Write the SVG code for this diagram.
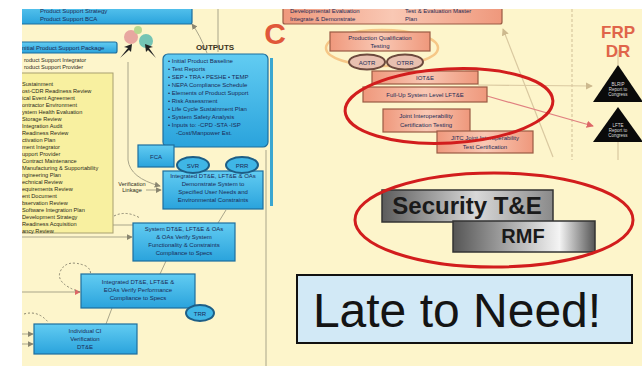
<svg xmlns="http://www.w3.org/2000/svg" width="642" height="366" viewBox="0 0 642 366">
<style>
.t{font-family:"Liberation Sans",Arial,sans-serif;fill:#1b2a55;font-size:6px}
.tc{text-anchor:middle}
.blue{fill:url(#blueG);stroke:#1d6e9e;stroke-width:1.2}
.salmon{fill:url(#salG);stroke:#9a5a44;stroke-width:1.2}
.oval{fill:#3fb6e6;stroke:#1d5e86;stroke-width:2}
.ovalS{fill:#e8c0b0;stroke:#6d4a3e;stroke-width:2}
.ln{fill:none;stroke:#a9a58a;stroke-width:1}
.lnd{fill:none;stroke:#8a8670;stroke-width:1;stroke-dasharray:2 2}
.red{fill:none;stroke:#d21d1d;stroke-width:3}
.tan{fill:none;stroke:#d9c8a0;stroke-width:1.2}
.yl{font-family:"Liberation Sans",Arial,sans-serif;fill:#2a2a1a;font-size:5.6px}
</style>
<defs>
<linearGradient id="blueG" x1="0" y1="0" x2="0" y2="1"><stop offset="0" stop-color="#62ccf2"/><stop offset="1" stop-color="#2aa3dc"/></linearGradient>
<linearGradient id="salG" x1="0" y1="0" x2="1" y2="0"><stop offset="0" stop-color="#ef987c"/><stop offset="0.5" stop-color="#f9c8b4"/><stop offset="1" stop-color="#ef987c"/></linearGradient>
<linearGradient id="grayA" x1="0" y1="0" x2="1" y2="0"><stop offset="0" stop-color="#5c5c5c"/><stop offset="0.55" stop-color="#d8d8d8"/><stop offset="1" stop-color="#8a8a8a"/></linearGradient>
<linearGradient id="grayB" x1="0" y1="0" x2="1" y2="0"><stop offset="0" stop-color="#555"/><stop offset="0.75" stop-color="#f4f4f4"/><stop offset="1" stop-color="#555"/></linearGradient>
<marker id="ah" viewBox="0 0 8 8" refX="7" refY="4" markerWidth="6" markerHeight="6" orient="auto"><path d="M0,0 L8,4 L0,8 z" fill="#8a8670"/></marker>
<marker id="ahr" viewBox="0 0 8 8" refX="7" refY="4" markerWidth="6" markerHeight="6" orient="auto"><path d="M0,0 L8,4 L0,8 z" fill="#d66"/></marker>
<marker id="aht" viewBox="0 0 8 8" refX="7" refY="4" markerWidth="6" markerHeight="6" orient="auto"><path d="M0,0 L8,4 L0,8 z" fill="#cdb98e"/></marker>
<clipPath id="clip"><rect x="22" y="9" width="620" height="357"/></clipPath>
</defs>
<rect width="642" height="366" fill="#ffffff"/>
<rect x="22" y="9" width="620" height="357" fill="#fdf5cb"/>
<g clip-path="url(#clip)">

<g id="connectors">
<line class="ln" x1="218" y1="9" x2="218" y2="52"/>
<path class="ln" d="M207,53 Q200,35 192,24" marker-end="url(#ah)"/>
<path class="ln" d="M128,62 L128,160 Q130,178 160,186" marker-end="url(#ah)"/>
<line class="ln" x1="146" y1="190" x2="161" y2="190" marker-end="url(#ah)"/>
<line class="ln" x1="22" y1="225" x2="133" y2="225"/>
<line class="ln" x1="22" y1="237" x2="132" y2="237" marker-end="url(#ah)"/>
<line class="ln" x1="22" y1="292" x2="80" y2="292" marker-end="url(#ahr)"/>
<line class="ln" x1="22" y1="334" x2="33" y2="334" marker-end="url(#ah)"/>
<line class="ln" x1="22" y1="344" x2="33" y2="344" marker-end="url(#ah)"/>
<line class="ln" x1="218" y1="223" x2="226" y2="210"/>
<line class="ln" x1="160" y1="274" x2="166" y2="261"/>
<line class="ln" x1="106" y1="324" x2="112" y2="308"/>
<line class="ln" x1="266" y1="150" x2="266" y2="366"/>
<path class="lnd" d="M114,216 Q126,210 140,218"/>
<path class="lnd" d="M80,292 Q56,284 60,272 Q66,258 86,266 Q92,270 90,276"/>
<path class="lnd" d="M24,314 Q38,310 48,322"/>
<line class="tan" x1="572" y1="9" x2="572" y2="160" stroke-dasharray="3 2"/>
<line class="tan" x1="553" y1="157" x2="503" y2="29" marker-end="url(#aht)"/>
<line class="tan" x1="478" y1="85" x2="592" y2="86" marker-end="url(#aht)"/>
<line x1="487" y1="96" x2="593" y2="126" stroke="#e08080" stroke-width="1.2" marker-end="url(#ahr)"/>
<line class="tan" x1="618" y1="142" x2="618" y2="160"/>
<line class="tan" x1="618" y1="50" x2="618" y2="65"/>
</g>

<g id="top-support-box">
<rect class="blue" x="16" y="2" width="176" height="22" rx="2"/>
<text class="t" x="40" y="13">Product Support Strategy</text>
<text class="t" x="40" y="21">Product Support BCA</text>
</g>

<g id="support-header">
<rect class="blue" x="14" y="42" width="103" height="11" rx="2"/>
<text class="t" x="22" y="49.5">nitial Product Support Package</text>
<text class="yl" x="24" y="62">roduct Support Integrator</text>
<text class="yl" x="24" y="69">roduct Support Provider</text>
</g>

<g id="people-icon">
<circle cx="131" cy="37" r="7" fill="#e8a7a0"/>
<circle cx="146" cy="41" r="7" fill="#74c4b4"/>
<circle cx="138" cy="30" r="4" fill="#b8d890"/>
<path d="M120,58 L128,48 L124,47 L132,44 L131,52 L129,50 Z" fill="#222"/>
<path d="M156,58 L149,48 L153,47 L145,44 L146,52 L148,50 Z" fill="#222"/>
</g>

<g id="support-list">
<rect x="14" y="73" width="99" height="160" fill="#f8f0a0" stroke="#a8a070" stroke-width="1"/>
<text class="yl" x="22" y="86">Sustainment</text>
<text class="yl" x="22" y="93">ost-CDR Readiness Review</text>
<text class="yl" x="22" y="100">ical Event Agreement</text>
<text class="yl" x="22" y="107">ontractor Environment</text>
<text class="yl" x="22" y="114">ystem Health Evaluation</text>
<text class="yl" x="22" y="121">Storage Review</text>
<text class="yl" x="22" y="128">Integration Audit</text>
<text class="yl" x="22" y="135">Readiness Review</text>
<text class="yl" x="22" y="142">ctivation Plan</text>
<text class="yl" x="22" y="149">ment Integrator</text>
<text class="yl" x="22" y="156">upport Provider</text>
<text class="yl" x="22" y="163">Contract Maintenance</text>
<text class="yl" x="22" y="170">Manufacturing &amp; Supportability</text>
<text class="yl" x="22" y="177">ngineering Plan</text>
<text class="yl" x="22" y="184">echnical Review</text>
<text class="yl" x="22" y="191">equirements Review</text>
<text class="yl" x="22" y="198">ent Document</text>
<text class="yl" x="22" y="205">bservation Review</text>
<text class="yl" x="22" y="212">Software Integration Plan</text>
<text class="yl" x="22" y="219">Development Strategy</text>
<text class="yl" x="22" y="226">Readiness Acquisition</text>
<text class="yl" x="22" y="233">ancy Review</text>
</g>

<g id="outputs">
<text x="215" y="50" text-anchor="middle" font-family="Liberation Sans,Arial,sans-serif" font-weight="bold" font-size="8" fill="#3a3320">OUTPUTS</text>
<rect class="blue" x="163" y="54" width="105" height="93" rx="5"/>
<text class="t" x="168" y="63">• Initial Product Baseline</text>
<text class="t" x="168" y="71">• Test Reports</text>
<text class="t" x="168" y="79">• SEP • TRA • PESHE • TEMP</text>
<text class="t" x="168" y="87">• NEPA Compliance Schedule</text>
<text class="t" x="168" y="95">• Elements of Product Support</text>
<text class="t" x="168" y="103">• Risk Assessment</text>
<text class="t" x="168" y="111">• Life Cycle Sustainment Plan</text>
<text class="t" x="168" y="119">• System Safety Analysis</text>
<text class="t" x="168" y="127">• Inputs to: -CPD -STA -ISP</text>
<text class="t" x="176" y="135">-Cost/Manpower Est.</text>
</g>

<g id="demonstrate">
<rect class="blue" x="163" y="171" width="100" height="38"/>
<text class="t tc" x="213" y="178">Integrated DT&amp;E, LFT&amp;E &amp; OAs</text>
<text class="t tc" x="213" y="186">Demonstrate System to</text>
<text class="t tc" x="213" y="194">Specified User Needs and</text>
<text class="t tc" x="213" y="202">Environmental Constraints</text>
</g>

<g id="fca">
<rect class="blue" x="138" y="145" width="36" height="22"/>
<text class="t tc" x="156" y="159" font-size="7">FCA</text>
</g>
<g id="svr">
<ellipse class="oval" cx="193" cy="165" rx="16" ry="8"/>
<text class="t tc" x="193" y="167.5" font-size="7">SVR</text>
</g>
<g id="prr">
<ellipse class="oval" cx="242" cy="165" rx="16" ry="8"/>
<text class="t tc" x="242" y="167.5" font-size="7">PRR</text>
</g>

<g id="verification-linkage">
<text class="yl tc" x="132" y="186">Verification</text>
<text class="yl tc" x="132" y="192">Linkage</text>
</g>

<g id="system-dte">
<rect class="blue" x="133" y="223" width="102" height="38"/>
<text class="t tc" x="184" y="231">System DT&amp;E, LFT&amp;E &amp; OAs</text>
<text class="t tc" x="184" y="239">&amp; OAs Verify System</text>
<text class="t tc" x="184" y="247">Functionality &amp; Constraints</text>
<text class="t tc" x="184" y="255">Compliance to Specs</text>
</g>

<g id="integrated-dte">
<rect class="blue" x="81" y="274" width="114" height="34"/>
<text class="t tc" x="138" y="284">Integrated DT&amp;E, LFT&amp;E &amp;</text>
<text class="t tc" x="138" y="292">EOAs Verify Performance</text>
<text class="t tc" x="138" y="300">Compliance to Specs</text>
</g>
<g id="trr">
<ellipse class="oval" cx="200" cy="313" rx="14" ry="8"/>
<text class="t tc" x="200" y="315.5" font-size="7">TRR</text>
</g>

<g id="ci-verification">
<rect class="blue" x="34" y="324" width="103" height="30"/>
<text class="t tc" x="85" y="333">Individual CI</text>
<text class="t tc" x="85" y="341">Verification</text>
<text class="t tc" x="85" y="349">DT&amp;E</text>
</g>

<g id="milestone-c">
<rect x="270" y="58" width="3" height="148" fill="#3aa6d0"/>
<text x="275" y="44" text-anchor="middle" font-family="Liberation Sans,Arial,sans-serif" font-weight="bold" font-size="30" fill="#e0583a">C</text>
</g>

<g id="top-salmon">
<rect class="salmon" x="283" y="2" width="219" height="22" rx="2"/>
<text class="t" x="290" y="13">Developmental Evaluation</text>
<text class="t" x="290" y="21">Integrate &amp; Demonstrate</text>
<text class="t" x="405" y="13">Test &amp; Evaluation Master</text>
<text class="t" x="405" y="21">Plan</text>
</g>

<g id="pqt">
<ellipse cx="382" cy="48" rx="56" ry="18" fill="none" stroke="#f2b46a" stroke-width="2.5" opacity="0.7"/>
<rect class="salmon" x="330" y="32" width="100" height="19"/>
<text class="t tc" x="380" y="40">Production Qualification</text>
<text class="t tc" x="380" y="48">Testing</text>
</g>
<g id="aotr">
<ellipse class="ovalS" cx="367" cy="62" rx="18" ry="7.5"/>
<text class="t tc" x="367" y="64.5" font-size="6.5">AOTR</text>
</g>
<g id="otrr">
<ellipse class="ovalS" cx="405" cy="62" rx="18" ry="7.5"/>
<text class="t tc" x="405" y="64.5" font-size="6.5">OTRR</text>
</g>

<g id="iote">
<rect class="salmon" x="372" y="71" width="106" height="13"/>
<text class="t tc" x="425" y="79.5">IOT&amp;E</text>
</g>
<g id="lfte">
<rect class="salmon" x="363" y="87" width="124" height="15"/>
<text class="t tc" x="425" y="96.5">Full-Up System Level LFT&amp;E</text>
</g>
<g id="jict">
<rect class="salmon" x="383" y="109" width="87" height="23"/>
<text class="t tc" x="426" y="118">Joint Interoperability</text>
<text class="t tc" x="426" y="127">Certification Testing</text>
</g>
<g id="jitc">
<rect class="salmon" x="437" y="131" width="96" height="22"/>
<text class="t tc" x="485" y="140">JITC Joint Interoperability</text>
<text class="t tc" x="485" y="149">Test Certification</text>
</g>

<g id="highlight-ellipse-1">
<ellipse class="red" cx="449" cy="106" rx="104" ry="37" transform="rotate(-3 449 106)"/>
</g>

<g id="frp-dr">
<text x="618" y="38" text-anchor="middle" font-family="Liberation Sans,Arial,sans-serif" font-weight="bold" font-size="17" fill="#e0654a">FRP</text>
<text x="618" y="57" text-anchor="middle" font-family="Liberation Sans,Arial,sans-serif" font-weight="bold" font-size="17" fill="#e0654a">DR</text>
</g>
<g id="blrip-report">
<polygon points="618,65 593,102 643,102" fill="#0a0a0a"/>
<text x="618" y="86" text-anchor="middle" font-family="Liberation Sans,Arial,sans-serif" font-size="4.5" fill="#dddddd">BLRIP</text>
<text x="618" y="91" text-anchor="middle" font-family="Liberation Sans,Arial,sans-serif" font-size="4.5" fill="#dddddd">Report to</text>
<text x="618" y="96" text-anchor="middle" font-family="Liberation Sans,Arial,sans-serif" font-size="4.5" fill="#dddddd">Congress</text>
</g>
<g id="lfte-report">
<polygon points="618,107 593,142 643,142" fill="#0a0a0a"/>
<text x="618" y="127" text-anchor="middle" font-family="Liberation Sans,Arial,sans-serif" font-size="4.5" fill="#dddddd">LFTE</text>
<text x="618" y="132" text-anchor="middle" font-family="Liberation Sans,Arial,sans-serif" font-size="4.5" fill="#dddddd">Report to</text>
<text x="618" y="137" text-anchor="middle" font-family="Liberation Sans,Arial,sans-serif" font-size="4.5" fill="#dddddd">Congress</text>
</g>

<g id="security-te">
<rect x="382" y="190" width="171" height="32" fill="url(#grayA)" stroke="#333" stroke-width="1.5"/>
<text x="467" y="214" text-anchor="middle" font-family="Liberation Sans,Arial,sans-serif" font-weight="bold" font-size="24" fill="#1a1a1a">Security T&amp;E</text>
</g>
<g id="rmf">
<rect x="453" y="221" width="142" height="31" fill="url(#grayB)" stroke="#333" stroke-width="1.5"/>
<text x="523" y="243" text-anchor="middle" font-family="Liberation Sans,Arial,sans-serif" font-weight="bold" font-size="20" fill="#1a1a1a">RMF</text>
</g>
<g id="highlight-ellipse-2">
<ellipse class="red" cx="494" cy="220" rx="139" ry="47" stroke-width="2.5"/>
</g>

<g id="late-to-need">
<rect x="297" y="275" width="335" height="68" fill="#d2e9f6" stroke="#111" stroke-width="2"/>
<text x="457" y="327" text-anchor="middle" font-family="Liberation Sans,Arial,sans-serif" font-size="48" fill="#141414">Late to Need!</text>
</g>

</g>
</svg>
